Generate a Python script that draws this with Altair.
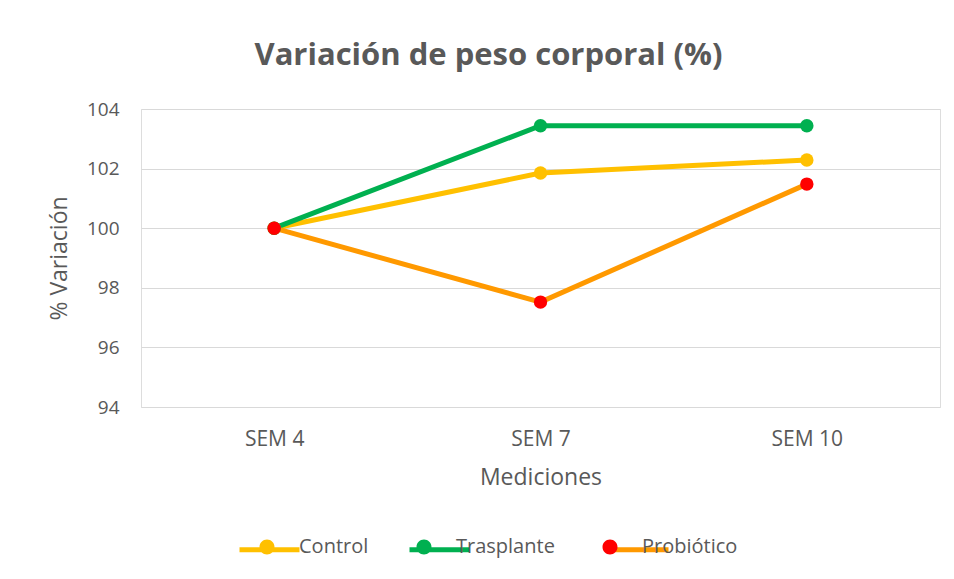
import altair as alt
import pandas as pd

weeks = ["SEM 4", "SEM 7", "SEM 10"]
series = ["Control", "Trasplante", "Probiótico"]
control = [100.0, 101.85, 102.29]
trasplante = [100.0, 103.44, 103.44]
probiotico = [100.0, 97.52, 101.48]
line_colors = ["#FFC000", "#00B050", "#FF9900"]
marker_colors = ["#FFC000", "#00B050", "#FF0000"]
y_ticks = [94, 96, 98, 100, 102, 104]

rows = []
for name, vals in zip(series, [control, trasplante, probiotico]):
    for i, (w, v) in enumerate(zip(weeks, vals)):
        rows.append({"sem": w, "idx": i, "serie": name, "marcador": name, "valor": v})
df = pd.DataFrame(rows)

FONT = "Open Sans"
GREY = "#595959"

x = alt.X("sem:N", sort=weeks, scale=alt.Scale(type="point", padding=0.5),
          axis=alt.Axis(title="Mediciones", labelAngle=0, ticks=False, domain=False,
                        grid=False, labelPadding=21, titlePadding=17,
                        labelFontSize=21, titleFontSize=23, labelFont=FONT, titleFont=FONT,
                        labelColor=GREY, titleColor=GREY, titleFontWeight="normal"))
y = alt.Y("valor:Q", scale=alt.Scale(domain=[94, 104], nice=False, zero=False),
          axis=alt.Axis(title="% Variación", values=y_ticks, ticks=False, domain=False,
                        grid=True, gridColor="#D9D9D9", gridWidth=1, labelPadding=22,
                        titlePadding=15, labelFontSize=19, titleFontSize=23,
                        labelFont=FONT, titleFont=FONT, labelColor=GREY, titleColor=GREY,
                        titleFontWeight="normal"))

legend_common = dict(orient="none", legendX=96, legendY=408, direction="horizontal",
                     title=None, symbolSize=3600, labelOffset=2, columnPadding=25,
                     labelFontSize=20, labelFont=FONT, labelColor=GREY)

CIRCLE = ("M-1,0L-1,0M1,0L1,0"
          "M0.25,0C0.25,0.138,0.138,0.25,0,0.25C-0.138,0.25,-0.25,0.138,-0.25,0"
          "C-0.25,-0.138,-0.138,-0.25,0,-0.25C0.138,-0.25,0.25,-0.138,0.25,0Z")

lines = alt.Chart(df).mark_line(strokeWidth=5).encode(
    x=x, y=y,
    stroke=alt.Stroke("serie:N", sort=series,
                      scale=alt.Scale(domain=series, range=line_colors),
                      legend=alt.Legend(symbolType="M-1,0L1,0", symbolStrokeWidth=5,
                                        labelOpacity=0, **legend_common)),
    order=alt.Order("idx:Q"),
)

points = alt.Chart(df).mark_circle(size=180, opacity=1).encode(
    x=x, y=y,
    color=alt.Color("marcador:N", sort=series,
                    scale=alt.Scale(range=marker_colors),
                    legend=alt.Legend(symbolType=CIRCLE, symbolStrokeWidth=0,
                                      symbolOpacity=1, zindex=1, **legend_common)),
)

chart = alt.layer(lines, points).properties(
    width=799, height=298,
    title=alt.TitleParams("Variación de peso corporal (%)", fontSize=31, fontWeight="bold",
                          font=FONT, color=GREY, anchor="middle", frame="group",
                          dx=-52, offset=28),
    autosize=alt.AutoSizeParams(type="none"),
    padding={"left": 133, "top": 101, "right": 6, "bottom": 164},
).configure_view(stroke=None).configure(background="white")

chart.save("out.html", embed_options={"renderer": "svg", "actions": False})
